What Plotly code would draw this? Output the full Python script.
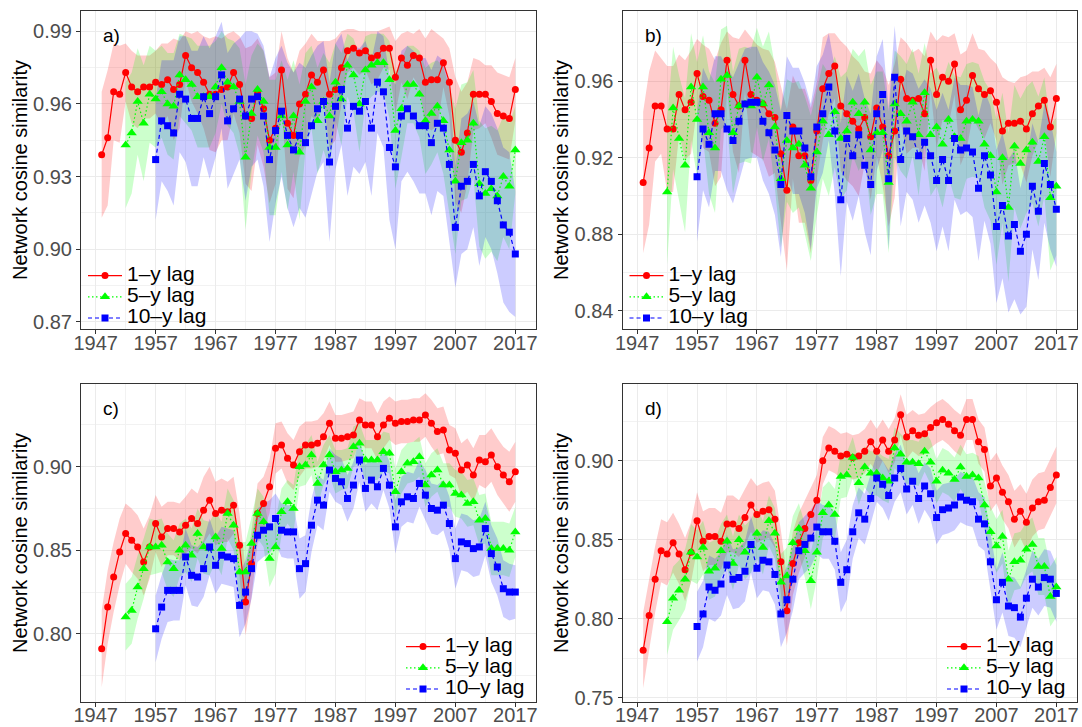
import plotly.graph_objects as go

# years covered by each lag
YEARS_1 = list(range(1948, 2018))
YEARS_5 = list(range(1952, 2018))
YEARS_10 = list(range(1957, 2018))

# panel a) mean similarity and band half-width
A_RED = [0.939, 0.946, 0.965, 0.964, 0.973, 0.967, 0.965, 0.967, 0.967, 0.969,
         0.968, 0.970, 0.966, 0.968, 0.980, 0.975, 0.973, 0.969, 0.964, 0.964,
         0.966, 0.967, 0.973, 0.968, 0.955, 0.954, 0.965, 0.958, 0.945, 0.950,
         0.974, 0.952, 0.947, 0.960, 0.964, 0.972, 0.969, 0.974, 0.964, 0.966,
         0.975, 0.982, 0.983, 0.981, 0.982, 0.979, 0.980, 0.983, 0.983, 0.971,
         0.979, 0.976, 0.980, 0.979, 0.969, 0.970, 0.970, 0.977, 0.969, 0.945,
         0.940, 0.948, 0.964, 0.964, 0.964, 0.961, 0.956, 0.955, 0.954, 0.966]
A_RED_HW = [.026, .028, .020, .020, .012, .015, .015, .013, .013, .013,
            .017, .015, .021, .018, .010, .014, .017, .019, .023, .024,
            .021, .022, .017, .020, .028, .030, .022, .024, .026, .023,
            .016, .027, .026, .022, .021, .017, .017, .012, .022, .021,
            .015, .009, .008, .009, .008, .011, .010, .008, .009, .015,
            .010, .014, .009, .012, .018, .021, .019, .010, .014, .026,
            .025, .021, .015, .014, .012, .015, .017, .017, .017, .013]
A_GREEN = [0.943, 0.948, 0.961, 0.952, 0.964, 0.962, 0.965, 0.960, 0.959, 0.972,
           0.970, 0.968, 0.963, 0.963, 0.963, 0.967, 0.975, 0.969, 0.967, 0.961,
           0.938, 0.956, 0.966, 0.961, 0.942, 0.942, 0.955, 0.943, 0.955, 0.940,
           0.961, 0.967, 0.953, 0.961, 0.955, 0.969, 0.962, 0.976, 0.972, 0.960,
           0.974, 0.976, 0.977, 0.977, 0.970, 0.949, 0.958, 0.968, 0.968, 0.964,
           0.953, 0.956, 0.959, 0.953, 0.941, 0.928, 0.944, 0.945, 0.952, 0.927,
           0.923, 0.925, 0.922, 0.930, 0.926, 0.941]
A_GREEN_HW = [.026, .025, .022, .024, .020, .020, .019, .021, .022, .017,
              .018, .019, .021, .021, .021, .019, .015, .018, .019, .022,
              .030, .024, .019, .021, .028, .028, .023, .027, .023, .028,
              .020, .017, .022, .020, .022, .016, .019, .013, .015, .020,
              .014, .013, .012, .012, .016, .024, .020, .016, .016, .018,
              .022, .021, .019, .022, .026, .030, .024, .024, .022, .026,
              .027, .026, .027, .025, .026, .018]
A_BLUE = [0.937, 0.953, 0.951, 0.948, 0.964, 0.962, 0.954, 0.954, 0.963, 0.956,
          0.963, 0.972, 0.953, 0.958, 0.962, 0.955, 0.962, 0.963, 0.955, 0.937,
          0.949, 0.957, 0.947, 0.941, 0.947, 0.944, 0.951, 0.958, 0.961, 0.936,
          0.959, 0.966, 0.950, 0.959, 0.957, 0.961, 0.950, 0.969, 0.965, 0.942,
          0.934, 0.955, 0.958, 0.955, 0.951, 0.951, 0.944, 0.952, 0.950, 0.935,
          0.909, 0.926, 0.928, 0.935, 0.922, 0.932, 0.928, 0.920, 0.910, 0.907,
          0.898]
A_BLUE_HW = [.025, .025, .027, .030, .024, .026, .028, .028, .025, .027,
             .025, .022, .028, .027, .025, .035, .028, .026, .029, .034,
             .030, .027, .030, .032, .030, .031, .029, .026, .025, .033,
             .026, .023, .028, .025, .026, .025, .028, .021, .023, .030,
             .034, .027, .026, .027, .028, .028, .030, .028, .028, .032,
             .025, .028, .028, .026, .029, .027, .028, .030, .032, .033,
             .026]

# panel b)
B_RED = [0.907, 0.925, 0.947, 0.947, 0.935, 0.935, 0.953, 0.945, 0.949, 0.964,
         0.952, 0.950, 0.938, 0.945, 0.971, 0.953, 0.947, 0.971, 0.953, 0.950,
         0.948, 0.943, 0.941, 0.922, 0.903, 0.936, 0.921, 0.921, 0.908, 0.934,
         0.956, 0.964, 0.968, 0.947, 0.943, 0.939, 0.935, 0.941, 0.931, 0.946,
         0.936, 0.921, 0.934, 0.961, 0.951, 0.950, 0.951, 0.943, 0.971, 0.953,
         0.962, 0.960, 0.969, 0.945, 0.950, 0.963, 0.956, 0.953, 0.955, 0.949,
         0.934, 0.938, 0.938, 0.939, 0.935, 0.943, 0.947, 0.950, 0.936, 0.951]
B_RED_HW = [.037, .040, .029, .025, .033, .033, .021, .026, .027, .018,
            .027, .027, .033, .035, .015, .030, .035, .016, .030, .029,
            .029, .033, .029, .036, .042, .027, .035, .035, .038, .025,
            .027, .021, .017, .034, .035, .034, .035, .024, .033, .025,
            .031, .037, .035, .022, .029, .025, .026, .030, .015, .028,
            .022, .023, .016, .029, .026, .022, .021, .023, .017, .020,
            .028, .022, .021, .023, .028, .022, .018, .017, .026, .018]
B_GREEN = [0.902, 0.946, 0.930, 0.916, 0.957, 0.940, 0.957, 0.933, 0.925, 0.961,
           0.963, 0.933, 0.947, 0.948, 0.947, 0.962, 0.948, 0.958, 0.936, 0.909,
           0.929, 0.925, 0.927, 0.916, 0.904, 0.923, 0.939, 0.932, 0.944, 0.930,
           0.934, 0.949, 0.943, 0.949, 0.924, 0.933, 0.933, 0.907, 0.948, 0.943,
           0.939, 0.949, 0.932, 0.954, 0.932, 0.936, 0.927, 0.940, 0.931, 0.930,
           0.939, 0.940, 0.939, 0.927, 0.921, 0.902, 0.920, 0.894, 0.926, 0.917,
           0.924, 0.928, 0.918, 0.931, 0.899, 0.905]
B_GREEN_HW = [.038, .032, .033, .035, .028, .030, .027, .032, .034, .026,
              .026, .032, .030, .030, .030, .026, .030, .028, .032, .036,
              .032, .034, .033, .036, .038, .033, .030, .032, .029, .032,
              .031, .028, .030, .028, .034, .032, .032, .037, .028, .030,
              .030, .028, .032, .026, .032, .031, .033, .030, .032, .032,
              .030, .030, .030, .033, .034, .038, .034, .039, .032, .034,
              .033, .032, .034, .031, .038, .036]
B_BLUE = [0.910, 0.935, 0.927, 0.943, 0.943, 0.935, 0.929, 0.939, 0.948, 0.949,
          0.949, 0.939, 0.933, 0.924, 0.906, 0.942, 0.934, 0.934, 0.925, 0.910,
          0.936, 0.943, 0.957, 0.934, 0.898, 0.930, 0.921, 0.932, 0.916, 0.906,
          0.943, 0.953, 0.909, 0.962, 0.919, 0.934, 0.931, 0.921, 0.928, 0.921,
          0.908, 0.919, 0.908, 0.930, 0.924, 0.925, 0.923, 0.904, 0.921, 0.911,
          0.884, 0.895, 0.879, 0.885, 0.871, 0.880, 0.905, 0.892, 0.917, 0.906,
          0.893]
B_BLUE_HW = [.034, .032, .033, .030, .030, .032, .033, .031, .029, .029,
             .029, .031, .032, .034, .038, .031, .033, .033, .034, .038,
             .032, .031, .028, .033, .040, .033, .034, .032, .035, .037,
             .030, .029, .037, .027, .035, .032, .033, .035, .033, .035,
             .037, .035, .037, .032, .034, .033, .034, .038, .034, .036,
             .040, .038, .040, .039, .033, .038, .033, .036, .031, .034,
             .030]

# panel c)
C_RED = [0.791, 0.816, 0.834, 0.849, 0.860, 0.856, 0.852, 0.843, 0.852, 0.866,
         0.858, 0.863, 0.863, 0.861, 0.865, 0.869, 0.866, 0.874, 0.880, 0.872,
         0.874, 0.873, 0.877, 0.853, 0.819, 0.842, 0.872, 0.878, 0.888, 0.911,
         0.913, 0.905, 0.901, 0.909, 0.913, 0.913, 0.914, 0.918, 0.926, 0.917,
         0.917, 0.918, 0.919, 0.928, 0.925, 0.925, 0.918, 0.925, 0.929, 0.926,
         0.927, 0.927, 0.928, 0.928, 0.931, 0.926, 0.921, 0.922, 0.910, 0.908,
         0.898, 0.901, 0.895, 0.904, 0.903, 0.907, 0.900, 0.895, 0.891, 0.897]
C_RED_HW = [.023, .022, .021, .020, .018, .019, .019, .020, .019, .017,
            .018, .016, .016, .017, .017, .018, .018, .020, .020, .019,
            .019, .018, .017, .019, .020, .020, .018, .016, .016, .015,
            .014, .015, .015, .015, .014, .014, .014, .014, .013, .014,
            .014, .014, .014, .013, .014, .014, .014, .014, .013, .013,
            .013, .013, .013, .013, .013, .014, .014, .014, .015, .015,
            .016, .016, .016, .015, .016, .016, .017, .017, .018, .018]
C_GREEN = [0.810, 0.814, 0.828, 0.839, 0.852, 0.852, 0.853, 0.843, 0.839, 0.850,
           0.853, 0.847, 0.860, 0.852, 0.851, 0.858, 0.851, 0.872, 0.865, 0.837,
           0.837, 0.854, 0.872, 0.867, 0.845, 0.852, 0.873, 0.879, 0.875, 0.900,
           0.901, 0.907, 0.890, 0.901, 0.907, 0.897, 0.898, 0.899, 0.912, 0.914,
           0.904, 0.904, 0.904, 0.909, 0.908, 0.885, 0.897, 0.902, 0.903, 0.906,
           0.889, 0.895, 0.898, 0.889, 0.889, 0.884, 0.883, 0.878, 0.879, 0.868,
           0.869, 0.851, 0.851, 0.851, 0.850, 0.861]
C_GREEN_HW = [.020, .020, .019, .018, .017, .016, .016, .017, .017, .016,
              .016, .016, .015, .016, .016, .015, .016, .015, .015, .018,
              .018, .016, .015, .015, .017, .016, .014, .013, .014, .012,
              .012, .012, .013, .012, .012, .013, .012, .012, .012, .012,
              .012, .012, .012, .012, .012, .014, .013, .012, .012, .012,
              .013, .013, .013, .013, .013, .014, .014, .014, .014, .015,
              .015, .016, .016, .016, .016, .015]
C_BLUE = [0.803, 0.816, 0.826, 0.826, 0.826, 0.846, 0.835, 0.834, 0.839, 0.852,
          0.841, 0.847, 0.846, 0.845, 0.817, 0.825, 0.839, 0.859, 0.862, 0.864,
          0.869, 0.862, 0.861, 0.861, 0.839, 0.842, 0.865, 0.880, 0.877, 0.898,
          0.893, 0.891, 0.881, 0.889, 0.904, 0.887, 0.892, 0.888, 0.899, 0.889,
          0.864, 0.879, 0.882, 0.881, 0.890, 0.883, 0.875, 0.874, 0.877, 0.866,
          0.845, 0.855, 0.854, 0.851, 0.852, 0.863, 0.848, 0.840, 0.827, 0.825,
          0.825]
C_BLUE_HW = [.020, .019, .019, .018, .018, .017, .018, .018, .017, .017,
             .017, .017, .017, .017, .019, .019, .018, .016, .016, .016,
             .015, .016, .016, .016, .018, .017, .016, .015, .015, .013,
             .014, .014, .014, .014, .013, .014, .014, .014, .013, .014,
             .016, .015, .015, .015, .014, .015, .015, .015, .015, .016,
             .018, .017, .017, .017, .017, .016, .017, .017, .017, .017,
             .016]

# panel d)
D_RED = [0.780, 0.802, 0.825, 0.843, 0.841, 0.848, 0.841, 0.831, 0.842, 0.862,
         0.849, 0.852, 0.852, 0.849, 0.860, 0.860, 0.857, 0.864, 0.872, 0.866,
         0.868, 0.869, 0.863, 0.836, 0.805, 0.835, 0.848, 0.857, 0.866, 0.875,
         0.900, 0.908, 0.906, 0.903, 0.904, 0.902, 0.903, 0.906, 0.912, 0.906,
         0.913, 0.906, 0.913, 0.929, 0.915, 0.919, 0.916, 0.917, 0.921, 0.924,
         0.926, 0.923, 0.919, 0.916, 0.926, 0.926, 0.912, 0.907, 0.884, 0.889,
         0.880, 0.874, 0.863, 0.868, 0.861, 0.870, 0.874, 0.875, 0.883, 0.891]
D_RED_HW = [.024, .022, .021, .020, .020, .019, .019, .020, .019, .018,
            .019, .018, .018, .018, .018, .018, .018, .018, .017, .018,
            .018, .018, .018, .020, .022, .020, .019, .018, .017, .016,
            .015, .014, .014, .014, .014, .014, .014, .014, .014, .014,
            .013, .014, .014, .013, .014, .013, .013, .013, .013, .013,
            .013, .013, .013, .013, .013, .013, .014, .014, .016, .016,
            .017, .017, .018, .017, .018, .018, .018, .018, .018, .018]
D_GREEN = [0.798, 0.813, 0.818, 0.825, 0.842, 0.839, 0.845, 0.830, 0.832, 0.843,
           0.849, 0.835, 0.850, 0.842, 0.846, 0.854, 0.845, 0.862, 0.854, 0.823,
           0.827, 0.848, 0.857, 0.843, 0.824, 0.842, 0.867, 0.872, 0.866, 0.890,
           0.891, 0.902, 0.886, 0.896, 0.892, 0.892, 0.889, 0.887, 0.908, 0.904,
           0.899, 0.899, 0.898, 0.906, 0.899, 0.887, 0.894, 0.892, 0.888, 0.896,
           0.890, 0.891, 0.889, 0.872, 0.855, 0.846, 0.852, 0.825, 0.836, 0.837,
           0.844, 0.847, 0.833, 0.833, 0.814, 0.820]
D_GREEN_HW = [.021, .020, .019, .019, .018, .017, .017, .018, .018, .017,
              .017, .017, .016, .017, .017, .016, .017, .016, .016, .018,
              .018, .017, .016, .017, .018, .017, .016, .015, .016, .014,
              .014, .013, .014, .013, .014, .014, .014, .014, .013, .013,
              .014, .014, .014, .013, .014, .014, .014, .014, .014, .014,
              .014, .014, .014, .015, .016, .017, .017, .018, .018, .018,
              .017, .017, .018, .018, .019, .019]
D_BLUE = [0.795, 0.803, 0.820, 0.818, 0.822, 0.834, 0.825, 0.826, 0.830, 0.847,
          0.832, 0.837, 0.836, 0.828, 0.803, 0.812, 0.825, 0.843, 0.847, 0.851,
          0.858, 0.855, 0.855, 0.849, 0.823, 0.831, 0.855, 0.867, 0.863, 0.876,
          0.889, 0.885, 0.878, 0.889, 0.895, 0.882, 0.887, 0.876, 0.884, 0.879,
          0.864, 0.869, 0.870, 0.872, 0.877, 0.875, 0.874, 0.863, 0.860, 0.836,
          0.812, 0.823, 0.808, 0.807, 0.801, 0.813, 0.825, 0.820, 0.826, 0.825,
          0.816]
D_BLUE_HW = [.022, .021, .020, .020, .020, .019, .019, .019, .019, .018,
             .019, .019, .019, .019, .021, .021, .020, .018, .018, .018,
             .017, .017, .017, .018, .019, .019, .017, .016, .016, .016,
             .015, .015, .016, .015, .015, .016, .015, .016, .015, .016,
             .017, .016, .016, .016, .016, .016, .016, .017, .017, .018,
             .019, .019, .019, .019, .019, .018, .018, .018, .018, .018,
             .018]

LAG_NAMES = ['1–y lag', '5–y lag', '10–y lag']

FONT = 'Liberation Sans, Arial, Helvetica, sans-serif'
STYLES = [
    dict(color='#FF0000', fill='rgba(255,0,0,0.2)', symbol='circle', size=7, dash='solid'),
    dict(color='#00FF00', fill='rgba(0,255,0,0.2)', symbol='triangle-up', size=9, dash='1.5px,2.5px'),
    dict(color='#0000FF', fill='rgba(0,0,255,0.2)', symbol='square', size=7, dash='4px,3px'),
]

W, H = 1082, 727
COLS = [(81, 536), (622.5, 1077)]
ROWS = [(11, 329), (384, 702)]

panels = [
    dict(label='a)', col=0, row=0, yr=[0.867, 0.9984], t0=0.87, dt=0.03,
         series=[(A_RED, A_RED_HW), (A_GREEN, A_GREEN_HW), (A_BLUE, A_BLUE_HW)]),
    dict(label='b)', col=1, row=0, yr=[0.8304, 0.9967], t0=0.84, dt=0.04,
         series=[(B_RED, B_RED_HW), (B_GREEN, B_GREEN_HW), (B_BLUE, B_BLUE_HW)]),
    dict(label='c)', col=0, row=1, yr=[0.7592, 0.9495], t0=0.80, dt=0.05,
         series=[(C_RED, C_RED_HW), (C_GREEN, C_GREEN_HW), (C_BLUE, C_BLUE_HW)]),
    dict(label='d)', col=1, row=1, yr=[0.7473, 0.9485], t0=0.75, dt=0.05,
         series=[(D_RED, D_RED_HW), (D_GREEN, D_GREEN_HW), (D_BLUE, D_BLUE_HW)]),
]
YEARS = [YEARS_1, YEARS_5, YEARS_10]

for p in panels:
    for (m, h), yrs in zip(p['series'], YEARS):
        assert len(m) == len(yrs) and len(h) == len(yrs), (p['label'], len(yrs), len(m), len(h))

fig = go.Figure()
layout = {}
annotations = []

for i, p in enumerate(panels):
    n = '' if i == 0 else str(i + 1)
    xa, ya = 'x' + n, 'y' + n
    leg = 'legend' + n
    x0, x1 = COLS[p['col']]
    y0, y1 = ROWS[p['row']]

    # confidence ribbons
    for (m, h), yrs, st in zip(p['series'], YEARS, STYLES):
        hi = [v + e for v, e in zip(m, h)]
        lo = [v - e for v, e in zip(m, h)]
        fig.add_trace(go.Scatter(
            x=yrs + yrs[::-1], y=hi + lo[::-1], fill='toself',
            fillcolor=st['fill'], line=dict(width=0), mode='lines',
            hoverinfo='skip', showlegend=False, xaxis=xa, yaxis=ya))

    # lines with markers
    for (m, h), yrs, st, name in zip(p['series'], YEARS, STYLES, LAG_NAMES):
        fig.add_trace(go.Scatter(
            x=yrs, y=m, mode='lines+markers',
            name='<span style="font-size:21px">' + name + '</span>',
            line=dict(color=st['color'], width=1.2, dash=st['dash']),
            marker=dict(symbol=st['symbol'], size=st['size'], color=st['color']),
            xaxis=xa, yaxis=ya, legend=leg))

    layout['xaxis' + n] = dict(
        domain=[x0 / W, x1 / W], anchor=ya, range=[1944.55, 2020.45], automargin=False,
        tick0=1947, dtick=10, ticks='outside', ticklen=4, tickcolor='#333333',
        ticklabelstandoff=-8 if p['row'] == 0 else -9, ticklabeloverflow='allow',
        tickfont=dict(size=20, color='#4D4D4D', family=FONT),
        showgrid=True, gridcolor='#EBEBEB', gridwidth=1,
        minor=dict(tick0=1947, dtick=5, showgrid=True, gridcolor='#F2F2F2', gridwidth=0.8),
        showline=True, mirror=True, linecolor='#333333', linewidth=1, zeroline=False)
    layout['yaxis' + n] = dict(
        domain=[1 - y1 / H, 1 - y0 / H], anchor=xa, range=p['yr'], automargin=False,
        tick0=p['t0'], dtick=p['dt'], tickformat='.2f',
        ticks='outside', ticklen=4, tickcolor='#333333', ticklabeloverflow='allow',
        tickfont=dict(size=20, color='#4D4D4D', family=FONT),
        showgrid=True, gridcolor='#EBEBEB', gridwidth=1,
        minor=dict(tick0=p['t0'], dtick=p['dt'] / 2, showgrid=True, gridcolor='#F2F2F2', gridwidth=0.8),
        showline=True, mirror=True, linecolor='#333333', linewidth=1, zeroline=False,
        title=dict(text='Network cosine similarity', standoff=0,
                   font=dict(size=20, color='black', family=FONT)))

    if p['row'] == 0:
        layout[leg] = dict(x=(x0 + 2) / W, y=1 - 260 / H, xanchor='left', yanchor='top',
                           bgcolor='rgba(0,0,0,0)', font=dict(size=14, color='black', family=FONT),
                           tracegroupgap=0, itemwidth=34)
    else:
        layout[leg] = dict(x=(x1 - 135) / W, y=1 - 631 / H, xanchor='left', yanchor='top',
                           bgcolor='rgba(0,0,0,0)', font=dict(size=14, color='black', family=FONT),
                           tracegroupgap=0, itemwidth=34)

    annotations.append(dict(text=p['label'], x=(x0 + 20) / W, y=1 - (y0 + 24) / H,
                            xref='paper', yref='paper', xanchor='left', yanchor='middle',
                            showarrow=False, font=dict(size=19, color='black', family=FONT)))

fig.update_layout(
    width=W, height=H, margin=dict(l=0, r=0, t=0, b=0),
    paper_bgcolor='white', plot_bgcolor='white',
    font=dict(family=FONT), annotations=annotations, **layout)

# remove the default page margin so the figure sits at the window's corner
fig.write_html("out.html", config={'displayModeBar': False},
               post_script="document.body.style.margin='0px';")
